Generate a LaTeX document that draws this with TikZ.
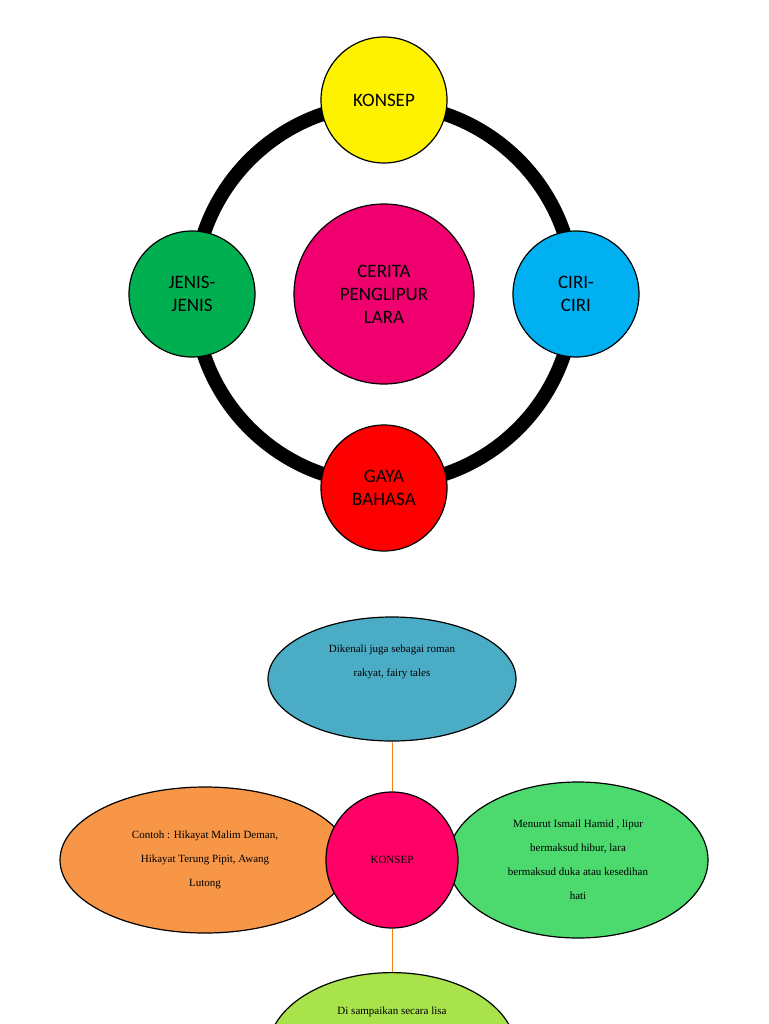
\documentclass[tikz,border=0pt]{standalone}
\usepackage{fontspec}
\setmainfont{Liberation Serif}
\newfontfamily\carfont{Carlito}
\usetikzlibrary{shapes.geometric}
\begin{document}
\begin{tikzpicture}[x=1pt,y=-1pt,
  big/.style={circle,draw=black,line width=1.2pt,minimum size=126pt,inner sep=0pt,align=center,font=\carfont\fontsize{19}{23}\selectfont},
  ell/.style={ellipse,draw=black,line width=1.2pt,inner sep=0pt,align=center,font=\fontsize{11}{24}\selectfont},
  link/.style={draw=orange!80!brown,line width=0.8pt}]
\useasboundingbox (0,0) rectangle (768,1024);
\node[circle,draw=black,line width=14pt,minimum size=380pt] (ring) at (384,294) {};
\node[big,fill=yellow] (k) at (384,100) {KONSEP};
\node[big,fill={rgb,255:red,0;green,176;blue,80}] (j) at (192,294) {JENIS-\\JENIS};
\node[big,fill={rgb,255:red,0;green,176;blue,240}] (c) at (576,294) {CIRI-\\CIRI};
\node[big,fill=red] (g) at (384,488) {GAYA\\BAHASA};
\node[big,fill={rgb,255:red,240;green,0;blue,110},minimum size=180pt] (m) at (384,294) {CERITA\\PENGLIPUR\\LARA};

\node[ell,fill={rgb,255:red,75;green,172;blue,198},minimum width=248pt,minimum height=124pt] (t) at (392,679) {Dikenali juga sebagai roman\\rakyat, fairy tales\\[12pt]};
\node[ell,fill={rgb,255:red,247;green,150;blue,70},minimum width=290pt,minimum height=146pt] (l) at (205,860) {Contoh : Hikayat Malim Deman,\\Hikayat Terung Pipit, Awang\\Lutong};
\node[ell,fill={rgb,255:red,76;green,217;blue,110},minimum width=260pt,minimum height=156pt] (r) at (578,860) {Menurut Ismail Hamid , lipur\\bermaksud hibur, lara\\bermaksud duka atau kesedihan\\hati};
\node[ell,fill={rgb,255:red,169;green,227;blue,75},minimum width=248pt,minimum height=156pt,anchor=north] (b) at (392,972) {};
\node[font=\fontsize{11}{13}\selectfont] at (392,1012) {Di sampaikan secara lisa};
\node[ell,fill={rgb,255:red,255;green,0;blue,102},minimum width=132pt,minimum height=136pt] (kc) at (392,860) {KONSEP};
\draw[link] (t.south) -- (kc.north);
\draw[link] (kc.south) -- (b.north);
\end{tikzpicture}
\end{document}
